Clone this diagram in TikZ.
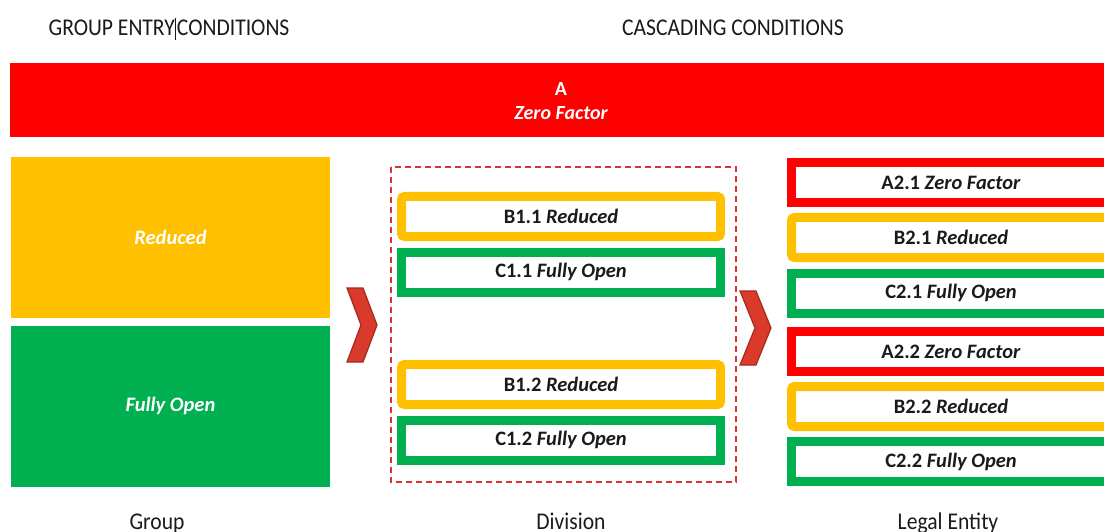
\documentclass[tikz,border=0pt]{standalone}
\usepackage{fontspec}
\setmainfont{Carlito}
\newfontfamily\narrowfont[FakeStretch=0.9]{Carlito}
\definecolor{zeroRed}{HTML}{FF0000}
\definecolor{reducedYellow}{HTML}{FFC000}
\definecolor{openGreen}{HTML}{00B050}
\definecolor{chevFill}{HTML}{D93A2B}
\definecolor{chevEdge}{HTML}{A52A1E}
\definecolor{dashRed}{HTML}{DD3333}
\definecolor{ink}{HTML}{1A1A1A}
\tikzset{
  heading/.style={text=ink, font=\narrowfont\fontsize{24}{28}\selectfont, inner sep=0pt, anchor=base},
  levellabel/.style={text=ink, font=\narrowfont\fontsize{24}{28}\selectfont, inner sep=0pt, anchor=base},
  groupblock/.style={minimum width=319pt, minimum height=161pt, inner sep=0pt,
    text=white, font=\fontsize{20.5}{24}\selectfont\bfseries\itshape},
  tier/.style={draw, fill=white, line width=9pt, minimum width=319pt,
    minimum height=40pt, inner sep=0pt, text=ink,
    font=\fontsize{20.5}{24}\selectfont\bfseries},
  zerotier/.style={tier, draw=zeroRed},
  reducedtier/.style={tier, draw=reducedYellow, rounded corners=3pt},
  opentier/.style={tier, draw=openGreen},
  chevron/.style={fill=chevFill, draw=chevEdge, line width=1.2pt, line join=miter},
}
\begin{document}
\begin{tikzpicture}[x=1pt, y=-1pt]
\useasboundingbox (0,0) rectangle (1104,532);
\clip (0,0) rectangle (1104,532);

% column headings
\node[heading] (hGroup) at (169,36) {GROUP ENTRY\hspace{2pt}CONDITIONS};
\draw[ink, line width=0.8pt] (175.5,18) -- (175.5,40);
\node[heading] (hCascade) at (733,36) {CASCADING CONDITIONS};

% overall zero-factor band
\fill[zeroRed] (10,63) rectangle (1110,137);
\node[text=white, font=\fontsize{20}{24}\selectfont\bfseries, inner sep=0pt] (bandA) at (561,89) {A};
\node[text=white, font=\fontsize{20}{24}\selectfont\bfseries\itshape, inner sep=0pt] (bandZ) at (561,113) {Zero Factor};

% group level
\node[groupblock, fill=reducedYellow] (gReduced) at (170.5,237.5) {Reduced};
\node[groupblock, fill=openGreen] (gOpen) at (170.5,406) {Fully Open};

% division level
\draw[dashRed, line width=1.8pt, dash pattern=on 6pt off 4pt] (391,167) rectangle (736,482);
\node[reducedtier] (b11) at (561,216.5) {B1.1 \textit{Reduced}};
\node[opentier]    (c11) at (561,272)   {C1.1 \textit{Fully Open}};
\node[reducedtier] (b12) at (561,384.5) {B1.2 \textit{Reduced}};
\node[opentier]    (c12) at (561,440)   {C1.2 \textit{Fully Open}};

% legal entity level
\node[zerotier]    (a21) at (951,182.5) {A2.1 \textit{Zero Factor}};
\node[reducedtier] (b21) at (951,237.5) {B2.1 \textit{Reduced}};
\node[opentier]    (c21) at (951,293)   {C2.1 \textit{Fully Open}};
\node[zerotier]    (a22) at (951,351.5) {A2.2 \textit{Zero Factor}};
\node[reducedtier] (b22) at (951,406.5) {B2.2 \textit{Reduced}};
\node[opentier]    (c22) at (951,461.5) {C2.2 \textit{Fully Open}};

% cascade chevrons
\draw[chevron] (347,288) -- (363,288) -- (377,325) -- (363,362) -- (347,362) -- (361,325) -- cycle;
\draw[chevron] (740,291) -- (756,291) -- (771,328) -- (756,365) -- (740,365) -- (755,328) -- cycle;

% level names
\node[levellabel] (lGroup) at (157,529) {Group};
\node[levellabel] (lDivision) at (571,529) {Division};
\node[levellabel] (lLegal) at (948,529) {Legal Entity};
\end{tikzpicture}
\end{document}
